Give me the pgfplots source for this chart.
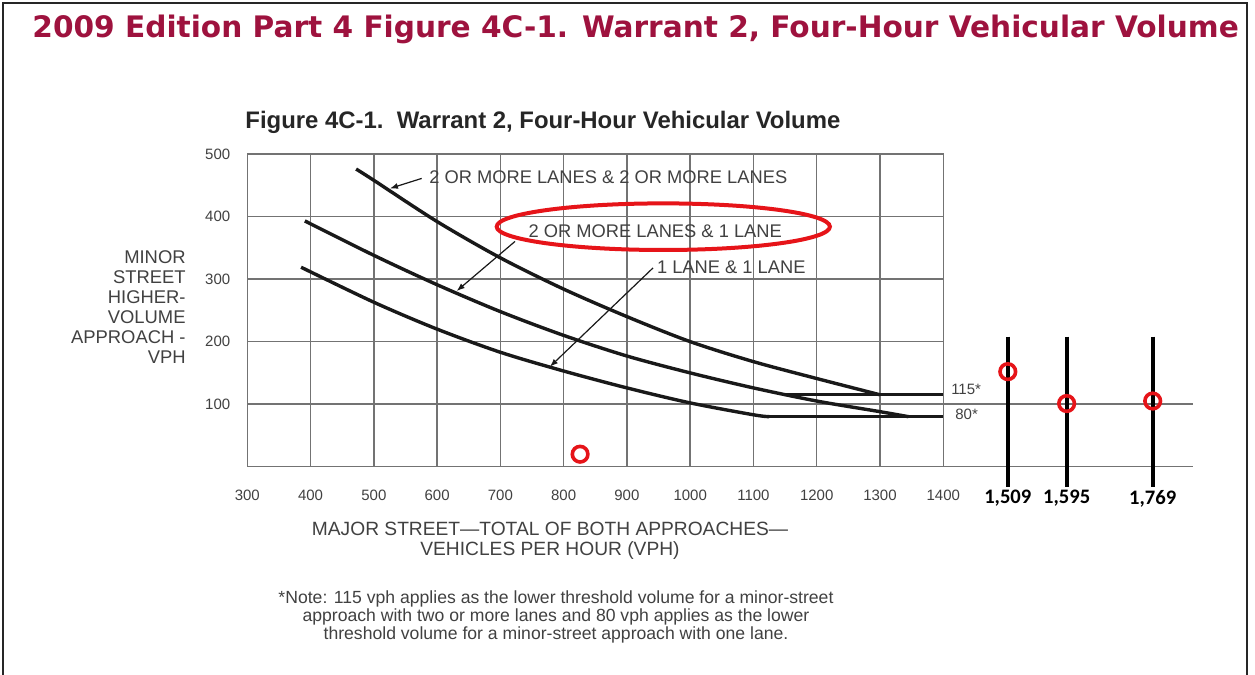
\documentclass[border=0pt]{standalone}
\usepackage{pgfplots}
\pgfplotsset{compat=1.18}
\usepackage{fontspec}
\setmainfont{Liberation Sans}
\newfontfamily\dejavu{DejaVu Sans}
\newfontfamily\carlito{Carlito}
\usetikzlibrary{arrows.meta}
\definecolor{titlered}{RGB}{158,18,62}
\definecolor{gridgray}{RGB}{115,115,115}
\definecolor{txtgray}{RGB}{65,65,65}
\definecolor{curvec}{RGB}{25,25,25}
\definecolor{circred}{RGB}{230,20,25}
\newcommand{\pxy}[2]{({(#1)*0.5pt},{(675-(#2))*0.5pt})}
\begin{document}
\begin{tikzpicture}
\useasboundingbox (0,0) rectangle (627.5pt,337.5pt);
\fill[white] (0,0) rectangle (627.5pt,337.5pt);
\draw[line width=1pt, black!85] \pxy{3}{3} rectangle \pxy{1247}{700};
\node[anchor=base west, inner sep=0, text=titlered, font=\dejavu\bfseries\fontsize{14.8}{16}\selectfont] at \pxy{32}{38} {2009 Edition Part 4 Figure 4C-1. Warrant 2, Four-Hour Vehicular Volume};
\node[anchor=base west, inner sep=0, text=black!85, font=\bfseries\fontsize{11.95}{13}\selectfont] at \pxy{245}{128.3} {Figure 4C-1.\ \ Warrant 2, Four-Hour Vehicular Volume};

\begin{axis}[
  at={(123.65pt,104.15pt)}, anchor=south west,
  x=0.31635pt, y=0.31265pt,
  xmin=300, xmax=1400, ymin=0, ymax=500,
  clip=false,
  axis line style={gridgray, line width=0.75pt},
  grid=major, grid style={gridgray, line width=0.75pt},
  xtick={300,400,...,1400}, ytick={100,200,...,500},
  major tick length=0pt,
  ticklabel style={font=\fontsize{7.5}{8}\selectfont, text=txtgray},
  xticklabel style={yshift=-8pt},
  yticklabel style={xshift=-5pt},
  /pgf/number format/assume math mode=true,
  /pgf/number format/1000 sep={},
]
% extensions of the 0 and 100 lines
\addplot[gridgray, line width=0.75pt] coordinates {(1400,100)(1795,100)};
\addplot[gridgray, line width=0.75pt] coordinates {(1400,0)(1795,0)};

% 2 or more lanes & 2 or more lanes
\addplot[curvec, line width=1.7pt, smooth, tension=0.5] coordinates {(472,476)(500,458)(600,392)(700,334)(800,284)(900,240)(1000,200)(1100,168)(1200,141)(1300,115)};
\addplot[curvec, line width=1.7pt] coordinates {(1150,115)(1400,115)};
% 2 or more lanes & 1 lane
\addplot[curvec, line width=1.7pt, smooth, tension=0.5] coordinates {(391,393)(500,338)(600,291)(700,248)(800,210)(900,177)(1000,150)(1100,126)(1200,105)(1300,88)(1345,80)};
% 1 lane & 1 lane
\addplot[curvec, line width=1.7pt, smooth, tension=0.5] coordinates {(385,319)(500,263)(600,220)(700,183)(800,153)(900,126)(1000,102)(1100,83)(1125,80)};
\addplot[curvec, line width=1.7pt] coordinates {(1125,80)(1400,80)};

% pointers
\addplot[curvec, line width=0.6pt, -{Latex[length=4pt,width=3pt]}] coordinates {(575.6,461)(525.5,445)};
\addplot[curvec, line width=0.6pt, -{Latex[length=4pt,width=3pt]}] coordinates {(723.2,360.3)(631,281)};
\addplot[curvec, line width=0.6pt, -{Latex[length=4pt,width=3pt]}] coordinates {(941.3,317.9)(778.4,160)};

\node[anchor=west, inner sep=0, font=\fontsize{9.15}{10}\selectfont, text=txtgray] at (axis cs:587,462.5) {2 OR MORE LANES \& 2 OR MORE LANES};
\node[anchor=west, inner sep=0, font=\fontsize{9.15}{10}\selectfont, text=txtgray] at (axis cs:744,376.5) {2 OR MORE LANES \& 1 LANE};
\node[anchor=west, inner sep=0, font=\fontsize{9.15}{10}\selectfont, text=txtgray] at (axis cs:947,318.2) {1 LANE \& 1 LANE};
\node[anchor=west, inner sep=0, font=\fontsize{7.5}{8}\selectfont, text=txtgray] at (axis cs:1412,124) {115*};
\node[anchor=west, inner sep=0, font=\fontsize{7.5}{8}\selectfont, text=txtgray] at (axis cs:1418.5,84) {80*};

% study volumes
\addplot[black, line width=2pt] coordinates {(1502,208)(1502,-32)};
\addplot[black, line width=2pt] coordinates {(1595,208)(1595,-32)};
\addplot[black, line width=2pt] coordinates {(1731,208)(1731,-32)};
\node[font=\carlito\bfseries\fontsize{10.3}{12}\selectfont] at (axis cs:1502,-50.9) {1,509};
\node[font=\carlito\bfseries\fontsize{10.3}{12}\selectfont] at (axis cs:1595,-50.9) {1,595};
\node[font=\carlito\bfseries\fontsize{10.3}{12}\selectfont] at (axis cs:1731,-50.9) {1,769};

\addplot[only marks, mark=o, mark size=3.9pt, circred, line width=1.8pt] coordinates {(826,20)(1502,152)(1595,101)(1731,105)};
\end{axis}

\draw[circred, line width=2pt] \pxy{663.3}{226.7} ellipse [x radius=83.3pt, y radius=11.65pt];

\node[anchor=east, align=right, inner sep=0, font=\fontsize{9.2}{10}\selectfont, text=txtgray] at \pxy{186}{307} {MINOR\\STREET\\HIGHER-\\VOLUME\\APPROACH -\\VPH};
\node[align=center, inner sep=0, font=\fontsize{9.6}{10}\selectfont, text=txtgray] at \pxy{550}{541} {MAJOR STREET\textemdash TOTAL OF BOTH APPROACHES\textemdash\\VEHICLES PER HOUR (VPH)};
\node[align=center, inner sep=0, font=\fontsize{8.8}{9}\selectfont, text=txtgray] at \pxy{556}{617} {*Note: 115 vph applies as the lower threshold volume for a minor-street\\approach with two or more lanes and 80 vph applies as the lower\\threshold volume for a minor-street approach with one lane.};
\end{tikzpicture}
\end{document}
